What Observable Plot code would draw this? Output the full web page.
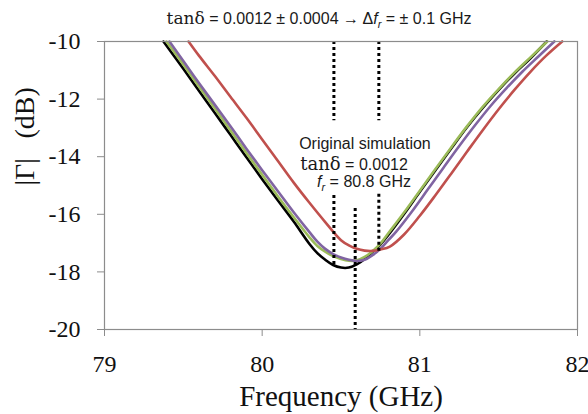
<!DOCTYPE html>
<html><head><meta charset="utf-8">
<script src="https://cdn.jsdelivr.net/npm/d3@7"></script>
<script src="https://cdn.jsdelivr.net/npm/@observablehq/plot@0.6"></script>
<style>body{margin:0;background:#fff}</style>
</head><body><div id="chart"></div>
<script>
const xTicks = [79, 80, 81, 82];
const yTicks = [-20, -18, -16, -14, -12, -10];

const freqBlack = [79.374,79.5,79.6,79.7,79.8,79.9,80.0,80.1,80.2,80.3,80.35,80.4,80.45,80.5,80.55,80.6,80.65,80.7,80.75,80.8,80.9,81.0,81.1,81.2,81.3,81.4,81.5,81.6,81.7,81.805];
const dbBlack   = [-10,-10.95,-11.72,-12.48,-13.25,-14.02,-14.78,-15.52,-16.25,-17.03,-17.35,-17.58,-17.76,-17.85,-17.85,-17.74,-17.55,-17.3,-17.05,-16.72,-15.99,-15.22,-14.46,-13.71,-12.97,-12.3,-11.68,-11.11,-10.59,-10];

const freqGreen = [79.393,79.5,79.6,79.7,79.8,79.9,80.0,80.1,80.2,80.3,80.35,80.4,80.45,80.5,80.55,80.6,80.65,80.7,80.75,80.8,80.9,81.0,81.1,81.2,81.3,81.4,81.5,81.6,81.7,81.808];
const dbGreen   = [-10,-10.8,-11.57,-12.33,-13.1,-13.87,-14.63,-15.38,-16.1,-16.8,-17.1,-17.3,-17.45,-17.55,-17.61,-17.6,-17.48,-17.28,-17.02,-16.66,-15.94,-15.18,-14.42,-13.67,-12.94,-12.26,-11.65,-11.08,-10.56,-10];

const freqPurple = [79.412,79.5,79.6,79.7,79.8,79.9,80.0,80.1,80.2,80.3,80.35,80.4,80.45,80.5,80.55,80.6,80.65,80.7,80.75,80.8,80.85,80.95,81.05,81.15,81.25,81.35,81.45,81.55,81.65,81.75,81.853];
const dbPurple   = [-10,-10.68,-11.45,-12.2,-12.95,-13.72,-14.47,-15.2,-15.93,-16.62,-16.95,-17.2,-17.38,-17.5,-17.58,-17.62,-17.58,-17.42,-17.2,-16.9,-16.6,-15.9,-15.14,-14.38,-13.63,-12.91,-12.23,-11.62,-11.05,-10.53,-10];

const freqRed = [79.533,79.6,79.7,79.8,79.9,80.0,80.1,80.2,80.3,80.4,80.5,80.55,80.6,80.65,80.7,80.75,80.81,80.9,81.0,81.1,81.2,81.3,81.4,81.5,81.6,81.7,81.8,81.903];
const dbRed   = [-10,-10.5,-11.2,-11.93,-12.65,-13.4,-14.15,-14.9,-15.6,-16.27,-16.9,-17.08,-17.2,-17.26,-17.27,-17.22,-17.12,-16.7,-16.05,-15.33,-14.58,-13.82,-13.07,-12.35,-11.68,-11.06,-10.5,-10];

// dotted marker segments
const dotFreq   = [80.455, 80.74, 80.455, 80.74, 80.59];
const dotTop    = [-10, -10, -15.35, -15.3, -15.8];
const dotBottom = [-12.75, -12.75, -17.8, -17.28, -20];

// annotation anchors (data units)
const annFreq = [80.364, 80.655, 80.586, 80.649];
const annDb   = [-9.41, -13.76, -14.47, -15.08];

const rows = (fs, ds) => fs.map((f, i) => ({f, db: ds[i]}));
const dots = dotFreq.map((f, i) => ({f, top: dotTop[i], bottom: dotBottom[i]}));

const SANS = "'Liberation Sans', Arial, sans-serif";
const SERIF = "'Liberation Serif', 'Times New Roman', serif";
const MATH = "'DejaVu Serif', serif";

const lineOpts = (stroke) => ({x: "f", y: "db", stroke, strokeWidth: 2.6, curve: "catmull-rom"});

const plot = Plot.plot({
  width: 588, height: 414,
  marginLeft: 104, marginRight: 11, marginTop: 41, marginBottom: 85,
  x: {domain: [79, 82]},
  y: {domain: [-20, -10]},
  style: {fontFamily: SERIF, fontSize: "24px", background: "#fff", color: "#111"},
  marks: [
    Plot.axisX({ticks: xTicks, tickSize: 7, tickPadding: 18, stroke: "#8c8c8c", fill: "#111", fontSize: 24, fontFamily: SERIF, label: null, tickFormat: d => `${d}`}),
    Plot.axisY({ticks: yTicks, tickSize: 7, tickPadding: 17, stroke: "#8c8c8c", fill: "#111", fontSize: 24, fontFamily: SERIF, label: null, tickFormat: d => `${d}`}),
    Plot.line(rows(freqBlack, dbBlack), lineOpts("#000000")),
    Plot.line(rows(freqGreen, dbGreen), lineOpts("#9BBB59")),
    Plot.line(rows(freqPurple, dbPurple), lineOpts("#8064A2")),
    Plot.line(rows(freqRed, dbRed), lineOpts("#C0504D")),
    Plot.ruleX(dots, {x: "f", y1: "top", y2: "bottom", stroke: "#000", strokeWidth: 3, strokeDasharray: "3,3"}),
    Plot.frame({stroke: "#8c8c8c", strokeWidth: 1.2}),
    Plot.text(["Frequency (GHz)"], {frameAnchor: "bottom", dy: 76, lineAnchor: "bottom", fontSize: 29, fontFamily: SERIF, fill: "#111"}),
    Plot.text(["|Γ|\u2002\u2009(dB)"], {frameAnchor: "left", dx: -79, rotate: -90, fontSize: 28, fontFamily: SERIF, fill: "#111"})
  ]
});

document.getElementById("chart").append(plot);

const svg = d3.select(plot);
// make sure tick labels use the serif face
svg.selectAll("g[aria-label$='tick label'], g[aria-label$='tick label'] text")
  .attr("font-family", SERIF).style("font-family", SERIF).style("font-variant", "normal");

// rich-text annotations placed through the plot's scales
const sx = plot.scale("x"), sy = plot.scale("y");
function rich(i, parts, mathSize) {
  const t = svg.append("text")
    .attr("x", sx.apply(annFreq[i]))
    .attr("y", sy.apply(annDb[i]))
    .attr("text-anchor", "middle")
    .attr("fill", "#1a1a1a")
    .attr("font-family", SANS)
    .attr("font-size", 16);
  for (const p of parts) {
    const s = t.append("tspan").text(p.t);
    if (p.math) s.attr("font-family", MATH).attr("font-size", mathSize);
    if (p.italic) s.attr("font-style", "italic");
    if (p.sub) s.attr("font-size", 11).attr("dy", 4);
    if (p.unsub) s.attr("dy", -4);
  }
}
rich(0, [{t: "tanδ", math: true}, {t: " = 0.0012 ± 0.0004 → Δ"}, {t: "f", italic: true}, {t: "r", italic: true, sub: true}, {t: " = ± 0.1 GHz", unsub: true}], 17);
rich(1, [{t: "Original simulation"}]);
rich(2, [{t: "tanδ", math: true}, {t: " = 0.0012"}], 18);
rich(3, [{t: "f", italic: true}, {t: "r", italic: true, sub: true}, {t: " = 80.8 GHz", unsub: true}]);
</script>
</body></html>
